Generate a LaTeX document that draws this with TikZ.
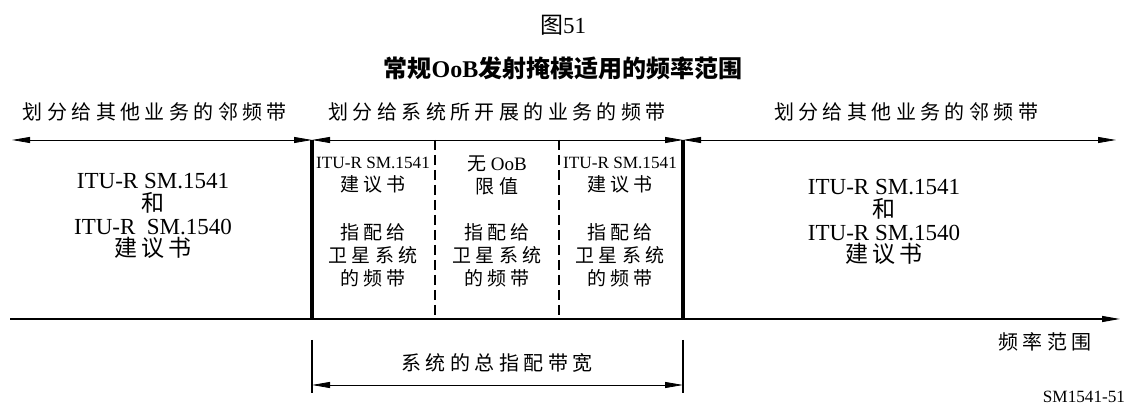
\documentclass[tikz,border=0pt]{standalone}
\usepackage{fontspec}
\setmainfont{Liberation Serif}
\newfontfamily\cjk[LetterSpace=22]{Noto Sans CJK SC}
\newfontfamily\cjkhead{Noto Sans CJK SC}
\usetikzlibrary{arrows.meta}

\begin{document}
\begin{tikzpicture}[x=0.5pt,y=0.5pt,yscale=-1,
    tip/.style={-{Triangle[length=9pt,width=3pt]}},
    both/.style={{Triangle[length=9pt,width=3pt]}-{Triangle[length=9pt,width=3pt]}},
    edgeline/.style={line width=1.8pt},
    sepline/.style={dash pattern=on 5pt off 2.5pt,line width=0.6pt},
    lbl/.style={inner sep=0pt,align=center,font=\fontsize{10}{12}\selectfont},
    big/.style={inner sep=0pt,align=center,font=\fontsize{11.5}{11.4}\selectfont},
    cell/.style={inner sep=0pt,align=center,font=\fontsize{9.5}{11.5}\selectfont}]
\useasboundingbox (0,0) rectangle (1126,410);

%Title
\node[lbl,font=\fontsize{11.5}{12}\selectfont] (fig) at (563,25) {{\cjkhead 图}51};
\node[lbl,font=\fontsize{12}{12}\selectfont\bfseries] (title) at (563,68) {{\cjkhead 常规}OoB{\cjkhead 发射掩模适用的频率范围}};

%Points of the frame
\coordinate (tl) at (12,140);
\coordinate (ta) at (312,140);
\coordinate (tb) at (435,140);
\coordinate (tc) at (559,140);
\coordinate (td) at (683,140);
\coordinate (tr) at (1116,140);
\coordinate (bl) at (10,319);
\coordinate (ba) at (312,319);
\coordinate (bb) at (435,319);
\coordinate (bc) at (559,319);
\coordinate (bd) at (683,319);
\coordinate (br) at (1120,319);

%Straight Lines
\draw[both] (tl) -- (ta);
\draw[both] (ta) -- (td);
\draw[both] (td) -- (tr);
\draw[tip,line width=0.6pt] (bl) -- (br);
\draw[edgeline] (ta) -- (ba);
\draw[edgeline] (td) -- (bd);
\draw[sepline] (tb) -- (bb);
\draw[sepline] (tc) -- (bc);

%Band labels
\node[lbl] (lefthead) at (155,112) {\cjk 划分给其他业务的邻频带};
\node[lbl] (midhead) at (497,112) {\cjk 划分给系统所开展的业务的频带};
\node[lbl] (righthead) at (906,112) {\cjk 划分给其他业务的邻频带};

%Block texts
\node[big] (leftrec) at (153,216) {ITU-R SM.1541\\{\cjk 和}\\ITU-R\ \ SM.1540\\{\cjkhead 建\,议\,书}};
\node[big] (rightrec) at (884,222) {ITU-R SM.1541\\{\cjk 和}\\ITU-R SM.1540\\{\cjkhead 建\,议\,书}};

\node[cell] (recA) at (373,175) {{\fontsize{8.6}{10}\selectfont ITU-R SM.1541}\\{\cjk 建议书}};
\node[cell] (nolim) at (497,175) {{\cjk 无} OoB\\{\cjk 限值}};
\node[cell] (recC) at (620,175) {{\fontsize{8.6}{10}\selectfont ITU-R SM.1541}\\{\cjk 建议书}};
\node[cell] (satA) at (373,255) {\cjk 指配给\\\cjk 卫星系统\\\cjk 的频带};
\node[cell] (satB) at (497,255) {\cjk 指配给\\\cjk 卫星系统\\\cjk 的频带};
\node[cell] (satC) at (620,255) {\cjk 指配给\\\cjk 卫星系统\\\cjk 的频带};

%Total bandwidth
\coordinate (wa) at (312,340);
\coordinate (wb) at (683,340);
\coordinate (wc) at (312,393);
\coordinate (wd) at (683,393);
\coordinate (we) at (312,385);
\coordinate (wf) at (683,385);
\draw[line width=0.6pt] (wa) -- (wc);
\draw[line width=0.6pt] (wb) -- (wd);
\draw[both] (we) -- (wf);
\node[lbl] (total) at (497,363) {\cjk 系统的总指配带宽};

\node[lbl] (freq) at (1045,342) {\cjk 频率范围};
\node[lbl,font=\fontsize{8.6}{10}\selectfont] (code) at (1084,397) {SM1541-51};
\end{tikzpicture}
\end{document}
